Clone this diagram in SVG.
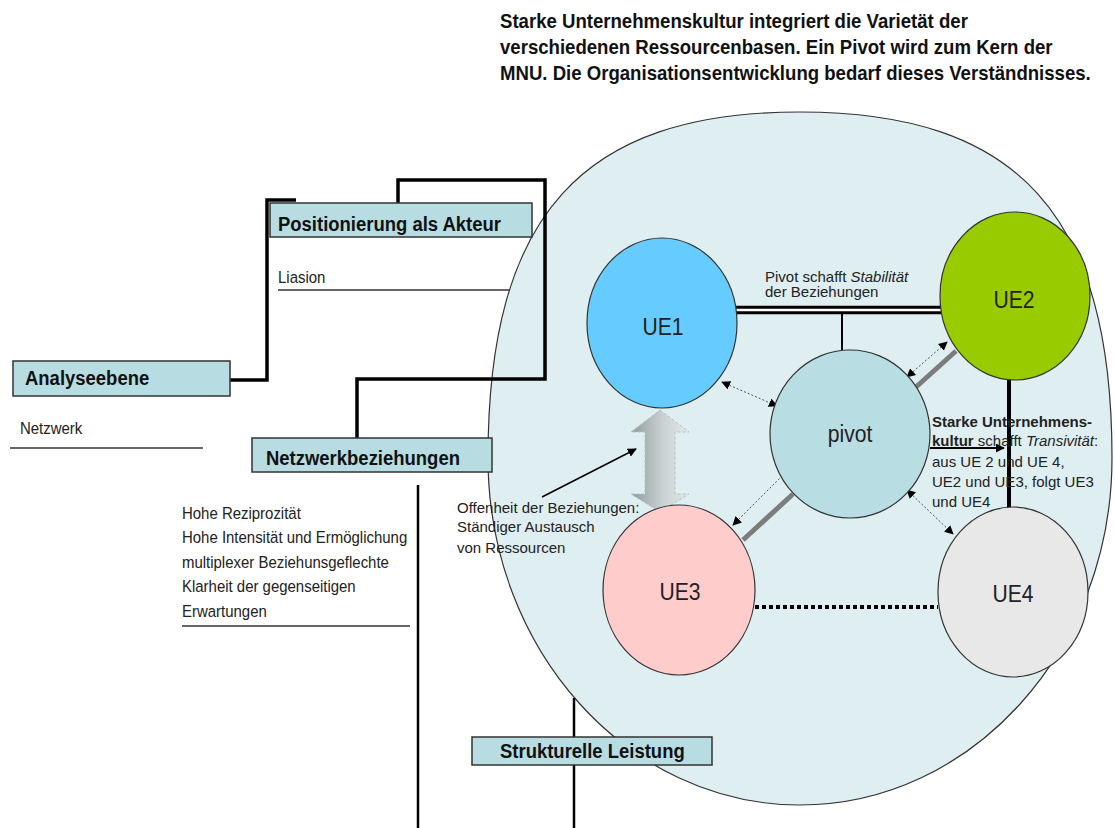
<svg xmlns="http://www.w3.org/2000/svg" width="1115" height="828" viewBox="0 0 1115 828">
  <style>
    .title { font-family: "Liberation Sans", Arial, sans-serif; font-weight: bold; font-size: 20px; fill: #111; }
    .boxlbl { font-family: "Liberation Sans", Arial, sans-serif; font-weight: bold; font-size: 21px; fill: #111; }
    .small { font-family: "Liberation Sans", Arial, sans-serif; font-size: 17px; fill: #222; }
    .note { font-family: "Liberation Sans", Arial, sans-serif; font-size: 15px; fill: #222; }
    .node { font-family: "Liberation Sans", Arial, sans-serif; font-size: 24px; fill: #222; text-anchor: middle; }
    .box { fill: #B7DDE2; stroke: #333; stroke-width: 1.5; }
    .circ { stroke: #333; stroke-width: 1.2; }
    .bracket { fill: none; stroke: #000; stroke-width: 3.5; }
    .rule { fill: none; stroke: #333; stroke-width: 1.5; }
    .dotarrow { fill: none; stroke: #555; stroke-width: 1; stroke-dasharray: 2 2; marker-start: url(#head); marker-end: url(#head); }
    .greyline { fill: none; stroke: #7c7c7c; stroke-width: 5; }
  </style>
  <defs>
    <marker id="head" viewBox="0 0 10 10" refX="9" refY="5" markerWidth="9" markerHeight="9" markerUnits="userSpaceOnUse" orient="auto-start-reverse">
      <path d="M0,0 L10,5 L0,10 z" fill="#000"/>
    </marker>
    <linearGradient id="bigArrow" x1="0" y1="0" x2="1" y2="0">
      <stop offset="0" stop-color="#8f9b9b"/>
      <stop offset="0.55" stop-color="#c9d2d2"/>
      <stop offset="1" stop-color="#e3e9e9"/>
    </linearGradient>
  </defs>

  <!-- headline -->
  <g id="headline">
    <text class="title" transform="matrix(0.93 0 0 1 500 28)">Starke Unternehmenskultur integriert die Varietät der</text>
    <text class="title" transform="matrix(0.93 0 0 1 500 54)">verschiedenen Ressourcenbasen. Ein Pivot wird zum Kern der</text>
    <text class="title" transform="matrix(0.93 0 0 1 500 80)">MNU. Die Organisationsentwicklung bedarf dieses Verständnisses.</text>
  </g>

  <!-- enterprise culture container -->
  <g id="culture">
    <path d="M488,458 C488,215 582,112 800,112 C1018,112 1112,215 1112,458 C1112,650 972,805 800,805 C628,805 488,650 488,458 Z" fill="#DFEFF1" stroke="#333" stroke-width="1.2"/>
  </g>

  <!-- connectors -->
  <g id="connectors">
    <!-- analysis brackets -->
    <polyline class="bracket" points="230,380 267,380 267,200 296,200"/>
    <polyline class="bracket" points="398,203 398,180 545,180 545,379 357,379 357,438"/>
    <line x1="418" y1="485" x2="418" y2="828" stroke="#000" stroke-width="2.5"/>
    <line x1="574" y1="698" x2="574" y2="828" stroke="#000" stroke-width="2.5"/>

    <!-- UE1 - UE2 stable relation -->
    <line x1="736" y1="310" x2="941" y2="310" stroke="#000" stroke-width="8.5"/>
    <line x1="736" y1="310" x2="941" y2="310" stroke="#fff" stroke-width="2.5"/>
    <line x1="842" y1="313" x2="842" y2="350" stroke="#000" stroke-width="2"/>

    <!-- UE2 - UE4 transitivity -->
    <line x1="1009" y1="380" x2="1009" y2="508" stroke="#000" stroke-width="4"/>
    <line x1="930" y1="448" x2="1004" y2="448" stroke="#000" stroke-width="2" marker-end="url(#head)"/>

    <!-- UE3 - UE4 weak tie -->
    <line x1="755" y1="607" x2="938" y2="607" stroke="#000" stroke-width="4" stroke-dasharray="4 3"/>

    <!-- pivot exchanges -->
    <line class="dotarrow" x1="722" y1="382" x2="777" y2="406"/>
    <line class="dotarrow" x1="907" y1="377" x2="947" y2="342"/>
    <line class="dotarrow" x1="788" y1="470" x2="733" y2="525"/>
    <line class="dotarrow" x1="907" y1="490" x2="953" y2="534"/>
    <line class="greyline" x1="916" y1="387" x2="956" y2="351"/>
    <line class="greyline" x1="743" y1="540" x2="793" y2="494"/>

    <!-- resource exchange arrow UE1 <-> UE3 -->
    <path d="M660,410 L689,432 L675,432 L675,494 L689,494 L660,512 L631,494 L645,494 L645,432 L631,432 Z" fill="url(#bigArrow)" stroke="#b5bfbf" stroke-width="1" stroke-dasharray="3 2"/>
    <line x1="542" y1="497" x2="636" y2="449" stroke="#000" stroke-width="1.5" marker-end="url(#head)"/>
  </g>

  <!-- analysis levels -->
  <g id="analyseebene">
    <rect class="box" x="13" y="361" width="217" height="35"/>
    <text class="boxlbl" transform="matrix(0.88 0 0 1 25 385)">Analyseebene</text>
    <text class="small" transform="matrix(0.88 0 0 1 20 434)">Netzwerk</text>
    <line class="rule" x1="10" y1="448" x2="203" y2="448"/>
  </g>

  <g id="positionierung">
    <rect class="box" x="270" y="203" width="262" height="34"/>
    <text class="boxlbl" transform="matrix(0.88 0 0 1 278 231)">Positionierung als Akteur</text>
    <text class="small" transform="matrix(0.88 0 0 1 278 283)">Liasion</text>
    <line class="rule" x1="278" y1="290" x2="510" y2="290"/>
  </g>

  <g id="netzwerkbeziehungen">
    <rect class="box" x="252" y="438" width="240" height="34"/>
    <text class="boxlbl" transform="matrix(0.88 0 0 1 266 465)">Netzwerkbeziehungen</text>
    <text class="small" transform="matrix(0.88 0 0 1 182 519)">Hohe Reziprozität</text>
    <text class="small" transform="matrix(0.88 0 0 1 182 543)">Hohe Intensität und Ermöglichung</text>
    <text class="small" transform="matrix(0.88 0 0 1 182 568)">multiplexer Beziehunsgeflechte</text>
    <text class="small" transform="matrix(0.88 0 0 1 182 592)">Klarheit der gegenseitigen</text>
    <text class="small" transform="matrix(0.88 0 0 1 182 617)">Erwartungen</text>
    <line class="rule" x1="182" y1="626" x2="410" y2="626"/>
  </g>

  <g id="strukturelle-leistung">
    <rect class="box" x="472" y="737" width="240" height="28"/>
    <text class="boxlbl" transform="matrix(0.88 0 0 1 500 758)">Strukturelle Leistung</text>
  </g>

  <!-- business units -->
  <g id="ue1">
    <ellipse class="circ" cx="662" cy="323" rx="75" ry="85" fill="#66CCFF"/>
    <text class="node" transform="matrix(0.88 0 0 1 663 335)">UE1</text>
  </g>
  <g id="ue2">
    <ellipse class="circ" cx="1015" cy="296" rx="75" ry="84" fill="#99CC00"/>
    <text class="node" transform="matrix(0.88 0 0 1 1014 308)">UE2</text>
  </g>
  <g id="pivot">
    <ellipse class="circ" cx="850" cy="434" rx="80" ry="84" fill="#B8DDE2"/>
    <text class="node" transform="matrix(0.88 0 0 1 850 442)">pivot</text>
  </g>
  <g id="ue3">
    <ellipse class="circ" cx="679" cy="590" rx="76" ry="85" fill="#FFCCCC"/>
    <text class="node" transform="matrix(0.88 0 0 1 680 600)">UE3</text>
  </g>
  <g id="ue4">
    <ellipse class="circ" cx="1013" cy="592" rx="75" ry="85" fill="#E8E8E8"/>
    <text class="node" transform="matrix(0.88 0 0 1 1013 602)">UE4</text>
  </g>

  <!-- annotations -->
  <g id="annotations">
    <text class="note" x="765" y="282">Pivot schafft <tspan font-style="italic">Stabilität</tspan></text>
    <text class="note" x="765" y="297">der Beziehungen</text>
    <text class="note" x="457" y="513">Offenheit der Beziehungen:</text>
    <text class="note" x="457" y="532">Ständiger Austausch</text>
    <text class="note" x="457" y="553">von Ressourcen</text>
    <text class="note" x="932" y="427" font-weight="bold">Starke Unternehmens-</text>
    <text class="note" x="932" y="446"><tspan font-weight="bold">kultur</tspan> schafft <tspan font-style="italic">Transivität</tspan>:</text>
    <text class="note" x="932" y="467">aus UE 2 und UE 4,</text>
    <text class="note" x="932" y="487">UE2 und UE3, folgt UE3</text>
    <text class="note" x="932" y="507">und UE4</text>
  </g>
</svg>
